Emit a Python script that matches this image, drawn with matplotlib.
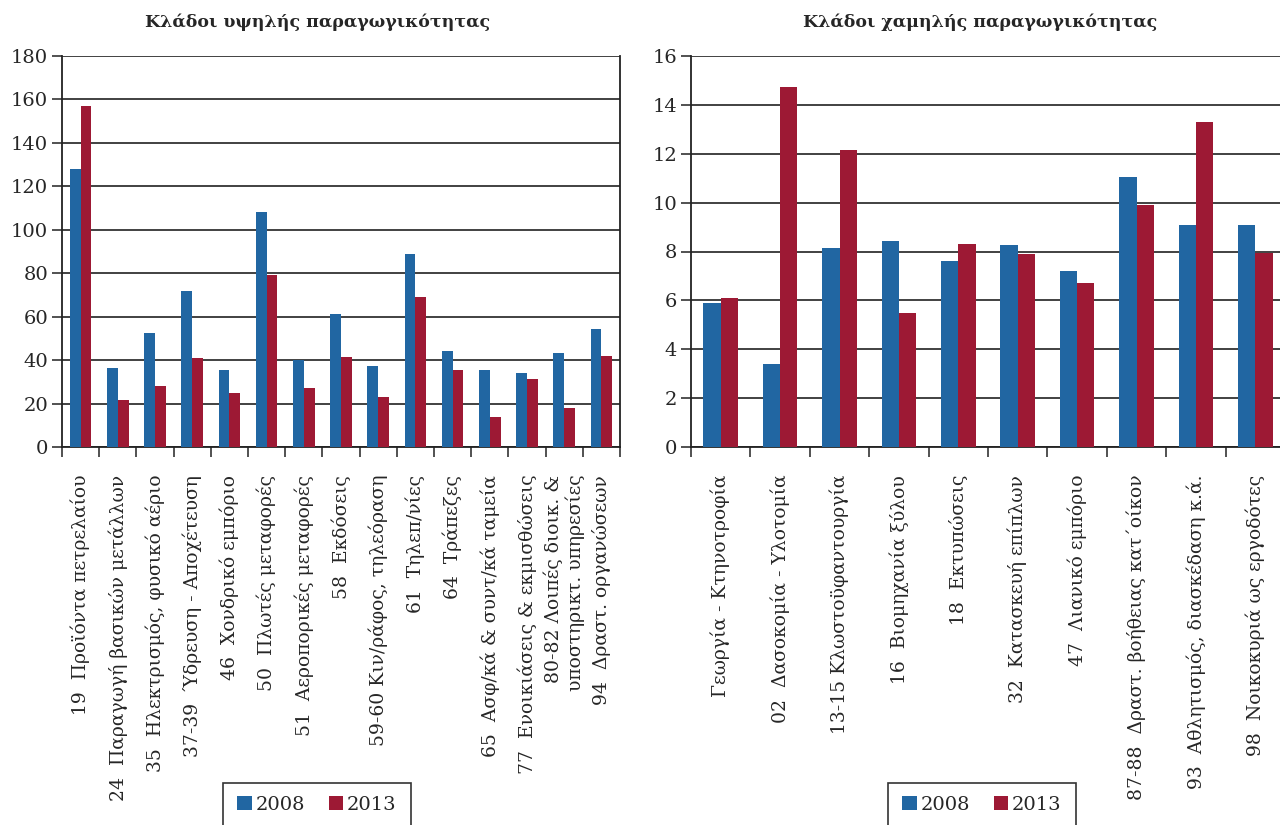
import matplotlib
matplotlib.use("Agg")
import matplotlib.pyplot as plt
from matplotlib.patches import Rectangle
import numpy as np

plt.rcParams['font.family'] = ['DejaVu Serif', 'Liberation Serif']

# Κλάδοι υψηλής παραγωγικότητας
high_labels = [
    "19  Προϊόντα πετρελαίου",
    "24  Παραγωγή βασικών μετάλλων",
    "35  Ηλεκτρισμός, φυσικό αέριο",
    "37-39  Ύδρευση - Αποχέτευση",
    "46  Χονδρικό εμπόριο",
    "50  Πλωτές μεταφορές",
    "51  Αεροπορικές μεταφορές",
    "58  Εκδόσεις",
    "59-60 Κιν/ράφος, τηλεόραση",
    "61  Τηλεπ/νίες",
    "64  Τράπεζες",
    "65  Ασφ/κά & συντ/κά ταμεία",
    "77  Ενοικιάσεις & εκμισθώσεις",
    "80-82 Λοιπές διοικ. &\nυποστηρικτ. υπηρεσίες",
    "94  Δραστ. οργανώσεων",
]
high_2008 = [128, 36.5, 52.5, 72, 35.5, 108, 40, 61, 37.5, 89, 44, 35.5, 34, 43.5, 54.5]
high_2013 = [157, 21.5, 28, 41, 25, 79, 27, 41.5, 23, 69, 35.5, 14, 31.5, 18, 42]

# Κλάδοι χαμηλής παραγωγικότητας
low_labels = [
    "Γεωργία - Κτηνοτροφία",
    "02  Δασοκομία - Υλοτομία",
    "13-15 Κλωστοϋφαντουργία",
    "16  Βιομηχανία ξύλου",
    "18  Εκτυπώσεις",
    "32  Κατασκευή επίπλων",
    "47  Λιανικό εμπόριο",
    "87-88  Δραστ. βοήθειας κατ΄οίκον",
    "93  Αθλητισμός, διασκέδαση κ.ά.",
    "98  Νοικοκυριά ως εργοδότες",
]
low_2008 = [5.9, 3.4, 8.15, 8.45, 7.6, 8.25, 7.2, 11.05, 9.1, 9.1]
low_2013 = [6.1, 14.75, 12.15, 5.5, 8.3, 7.9, 6.7, 9.9, 13.3, 7.95]

years = ["2008", "2013"]
blue = "#2166a2"
red = "#9d1934"
txt = "#262626"

W, H = 1280, 825
fig = plt.figure(figsize=(12.8, 8.25), dpi=100)


def draw(rect, labels, v1, v2, ymax, step, title, title_x, leg_left):
    ax = fig.add_axes(rect)
    n = len(labels)
    x = np.arange(n)
    bw = 0.29
    ax.bar(x - bw / 2, v1, bw, color=blue, label=years[0], zorder=3)
    ax.bar(x + bw / 2, v2, bw, color=red, label=years[1], zorder=3)
    ax.set_xlim(-0.5, n - 0.5)
    ax.set_ylim(0, ymax)
    ax.set_yticks(np.arange(0, ymax + step / 2, step))
    ax.yaxis.grid(True, color="#333333", lw=1.3, zorder=0)
    ax.set_axisbelow(True)
    ax.set_xticks(np.arange(n + 1) - 0.5)
    ax.set_xticklabels([])
    ax.set_xticks(x, minor=True)
    ax.set_xticklabels(labels, minor=True, rotation=90, ha="center", va="top",
                       multialignment="right", fontsize=13.5, color=txt)
    ax.tick_params(axis="x", which="major", length=7, width=1.2, color="#333333")
    ax.tick_params(axis="x", which="minor", length=0, pad=20)
    ax.tick_params(axis="y", length=7, width=1.2, color="#333333", labelsize=14,
                   labelcolor=txt, pad=3)
    for s in ["left", "bottom", "right"]:
        ax.spines[s].set_color("#222222")
        ax.spines[s].set_linewidth(1.3)
    ax.spines["top"].set_visible(False)
    fig.text(title_x / W, 1 - 22 / H, title, ha="center", va="center",
             fontsize=12.5, fontweight="bold", color=txt)

    # legend box (cut off by the bottom edge, as in the original)
    fig.patches.append(Rectangle((leg_left / W, -0.02), 188 / W, 0.02 + (825 - 783) / H,
                                 transform=fig.transFigure, fill=False,
                                 edgecolor="#333333", lw=1.2))
    leg = fig.legend(*ax.get_legend_handles_labels(), loc="center",
                     bbox_to_anchor=((leg_left + 94) / W, 1 - 805 / H),
                     ncol=2, fontsize=14, frameon=False, handlelength=0.75,
                     handleheight=0.75, handletextpad=0.2, columnspacing=1.2,
                     borderpad=0)
    for t in leg.get_texts():
        t.set_color(txt)
    return ax


y0 = 1 - 447 / H
h = (447 - 56) / H
draw([62 / W, y0, (620 - 62) / W, h], high_labels, high_2008, high_2013, 180, 20,
     "Κλάδοι υψηλής παραγωγικότητας", 318, 223)
draw([691 / W, y0, (1285 - 691) / W, h], low_labels, low_2008, low_2013, 16, 2,
     "Κλάδοι χαμηλής παραγωγικότητας", 980, 888)

fig.savefig("out.png", dpi=100)
